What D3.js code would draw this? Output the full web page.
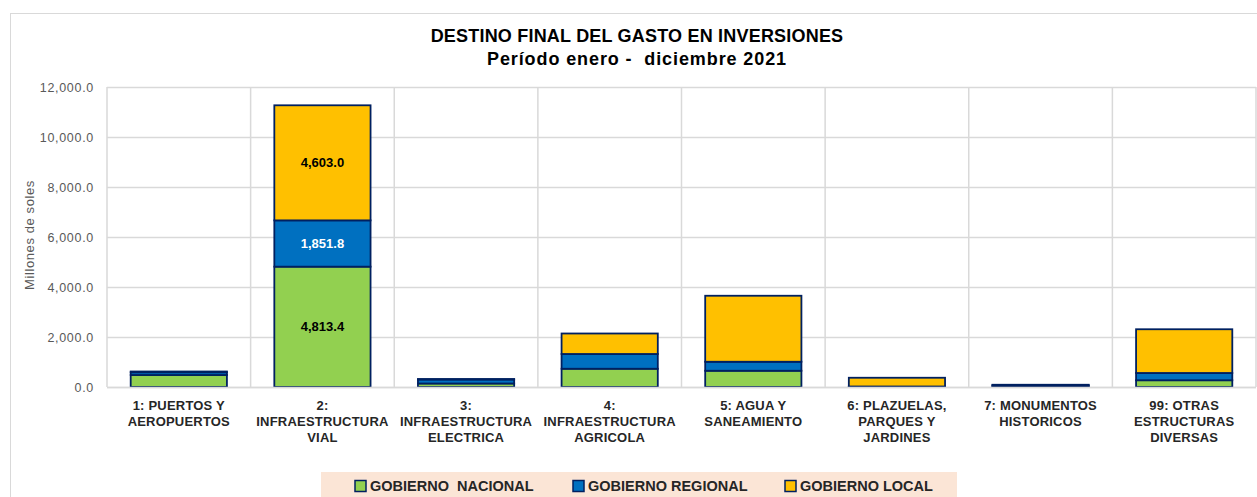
<!DOCTYPE html>
<html>
<head>
<meta charset="utf-8">
<script src="https://cdn.jsdelivr.net/npm/d3@7"></script>
<style>
  body { margin: 0; background: #fff; }
  svg { display: block; font-family: "Liberation Sans", Arial, sans-serif; }
</style>
</head>
<body>
<div id="drawing_region"></div>
<script>
// values (millions of soles)
const categories = [
    ["1: PUERTOS Y", "AEROPUERTOS"],
    ["2:", "INFRAESTRUCTURA", "VIAL"],
    ["3:", "INFRAESTRUCTURA", "ELECTRICA"],
    ["4:", "INFRAESTRUCTURA", "AGRICOLA"],
    ["5: AGUA Y", "SANEAMIENTO"],
    ["6: PLAZUELAS,", "PARQUES Y", "JARDINES"],
    ["7: MONUMENTOS", "HISTORICOS"],
    ["99: OTRAS", "ESTRUCTURAS", "DIVERSAS"]
];
const nacional = [480, 4813.4, 140, 730, 650, 5, 30, 270];
const regional = [110, 1851.8, 160, 590, 360, 15, 40, 290];
const local = [30, 4603.0, 20, 820, 2640, 350, 20, 1750];
const seriesNames = ["GOBIERNO  NACIONAL", "GOBIERNO REGIONAL", "GOBIERNO LOCAL"];
const yTicks = [0, 2000, 4000, 6000, 8000, 10000, 12000];
const labelledBar = 1;

const colors = ["#92D050", "#0070C0", "#FFC000"];
const labelColors = ["#000", "#fff", "#000"];

const width = 1257, height = 497;
const margin = { top: 87, right: 1, bottom: 110, left: 107 };
const innerW = width - margin.left - margin.right;
const innerH = height - margin.top - margin.bottom;

const svg = d3.select("#drawing_region").append("svg")
    .attr("width", width)
    .attr("height", height);

// chart frame
svg.append("rect")
    .attr("x", 10.5).attr("y", 13.5)
    .attr("width", 1260).attr("height", 500)
    .attr("fill", "none").attr("stroke", "#D9D9D9");

svg.append("text")
    .attr("x", 637).attr("y", 42)
    .attr("text-anchor", "middle")
    .attr("font-size", 18).attr("font-weight", "bold").attr("fill", "#000")
    .attr("letter-spacing", 0.2)
    .text("DESTINO FINAL DEL GASTO EN INVERSIONES");
svg.append("text")
    .attr("x", 637).attr("y", 65)
    .attr("text-anchor", "middle")
    .attr("font-size", 18).attr("font-weight", "bold").attr("fill", "#000")
    .attr("letter-spacing", 0.9)
    .attr("xml:space", "preserve")
    .text("Período enero -  diciembre 2021");

const chart = svg.append("g")
    .attr("transform", `translate(${margin.left}, ${margin.top})`);

const keys = d3.range(categories.length);
const xscale = d3.scaleBand().domain(keys).range([0, innerW]).paddingInner(0.33).paddingOuter(0.165);
const bandStep = xscale.step();
const yscale = d3.scaleLinear().domain([0, 12000]).range([innerH, 0]);

// grid
chart.append("g").selectAll("line").data(yTicks).join("line")
    .attr("x1", 0).attr("x2", innerW)
    .attr("y1", d => yscale(d) + 0.5).attr("y2", d => yscale(d) + 0.5)
    .attr("stroke", "#D9D9D9").attr("stroke-width", 1.5);
chart.append("g").selectAll("line").data(d3.range(categories.length + 1)).join("line")
    .attr("x1", d => d * bandStep).attr("x2", d => d * bandStep)
    .attr("y1", 0).attr("y2", innerH)
    .attr("stroke", "#D9D9D9").attr("stroke-width", 1.5);

// y axis
const yaxis = d3.axisLeft(yscale).tickValues(yTicks).tickSize(0).tickPadding(13)
    .tickFormat(d3.format(",.1f"));
const yg = chart.append("g").call(yaxis);
yg.select(".domain").remove();
yg.selectAll("text").attr("font-size", 12.5).attr("fill", "#595959")
    .attr("letter-spacing", 0.7).attr("dy", "0.32em");

svg.append("text")
    .attr("transform", "translate(34, 235) rotate(-90)")
    .attr("text-anchor", "middle")
    .attr("font-size", 13).attr("fill", "#595959")
    .attr("letter-spacing", 0.6)
    .text("Millones de soles");

// stacked bars
const table = keys.map(i => ({ i, n: nacional[i], r: regional[i], l: local[i] }));
const stack = d3.stack().keys(["n", "r", "l"])(table);

const layers = chart.append("g").selectAll("g").data(stack).join("g")
    .attr("fill", (d, k) => colors[k]);
layers.selectAll("rect").data(d => d).join("rect")
    .attr("x", d => xscale(d.data.i))
    .attr("y", d => yscale(d[1]))
    .attr("width", xscale.bandwidth())
    .attr("height", d => yscale(d[0]) - yscale(d[1]))
    .attr("stroke", "#002060").attr("stroke-width", 1.8);

// data labels on the big bar
layers.each(function (layer, k) {
    const d = layer[labelledBar];
    d3.select(this).append("text")
        .attr("x", xscale(labelledBar) + xscale.bandwidth() / 2)
        .attr("y", (yscale(d[0]) + yscale(d[1])) / 2)
        .attr("dy", "0.35em")
        .attr("text-anchor", "middle")
        .attr("font-size", 13).attr("font-weight", "bold")
        .attr("fill", labelColors[k])
        .text(d3.format(",.1f")(d[1] - d[0]));
});

// x axis line
chart.append("line")
    .attr("x1", 0).attr("x2", innerW)
    .attr("y1", innerH + 0.5).attr("y2", innerH + 0.5)
    .attr("stroke", "#D9D9D9").attr("stroke-width", 1.5);

// category labels
const xlab = chart.append("g").selectAll("text").data(keys).join("text")
    .attr("x", i => xscale(i) + xscale.bandwidth() / 2)
    .attr("y", innerH + 23)
    .attr("text-anchor", "middle")
    .attr("font-size", 13).attr("font-weight", "bold").attr("fill", "#262626")
    .attr("letter-spacing", 0.2);
xlab.selectAll("tspan").data(i => categories[i]).join("tspan")
    .attr("x", function () { return d3.select(this.parentNode).attr("x"); })
    .attr("dy", (d, j) => j === 0 ? 0 : 16)
    .text(d => d);

// legend
const legend = svg.append("g");
legend.append("rect")
    .attr("x", 321).attr("y", 472).attr("width", 636).attr("height", 30)
    .attr("fill", "#FBE5D6");
const legendX = [355, 573, 785];
const items = legend.selectAll("g").data(seriesNames).join("g")
    .attr("transform", (d, k) => `translate(${legendX[k]}, 486)`);
items.append("rect")
    .attr("x", 0).attr("y", -5.5).attr("width", 11).attr("height", 11)
    .attr("fill", (d, k) => colors[k])
    .attr("stroke", "#002060").attr("stroke-width", 1.5);
items.append("text")
    .attr("x", 15).attr("dy", "0.36em")
    .attr("font-size", 14.5).attr("font-weight", "bold").attr("fill", "#262626")
    .attr("xml:space", "preserve")
    .text(d => d);
</script>
</body>
</html>
